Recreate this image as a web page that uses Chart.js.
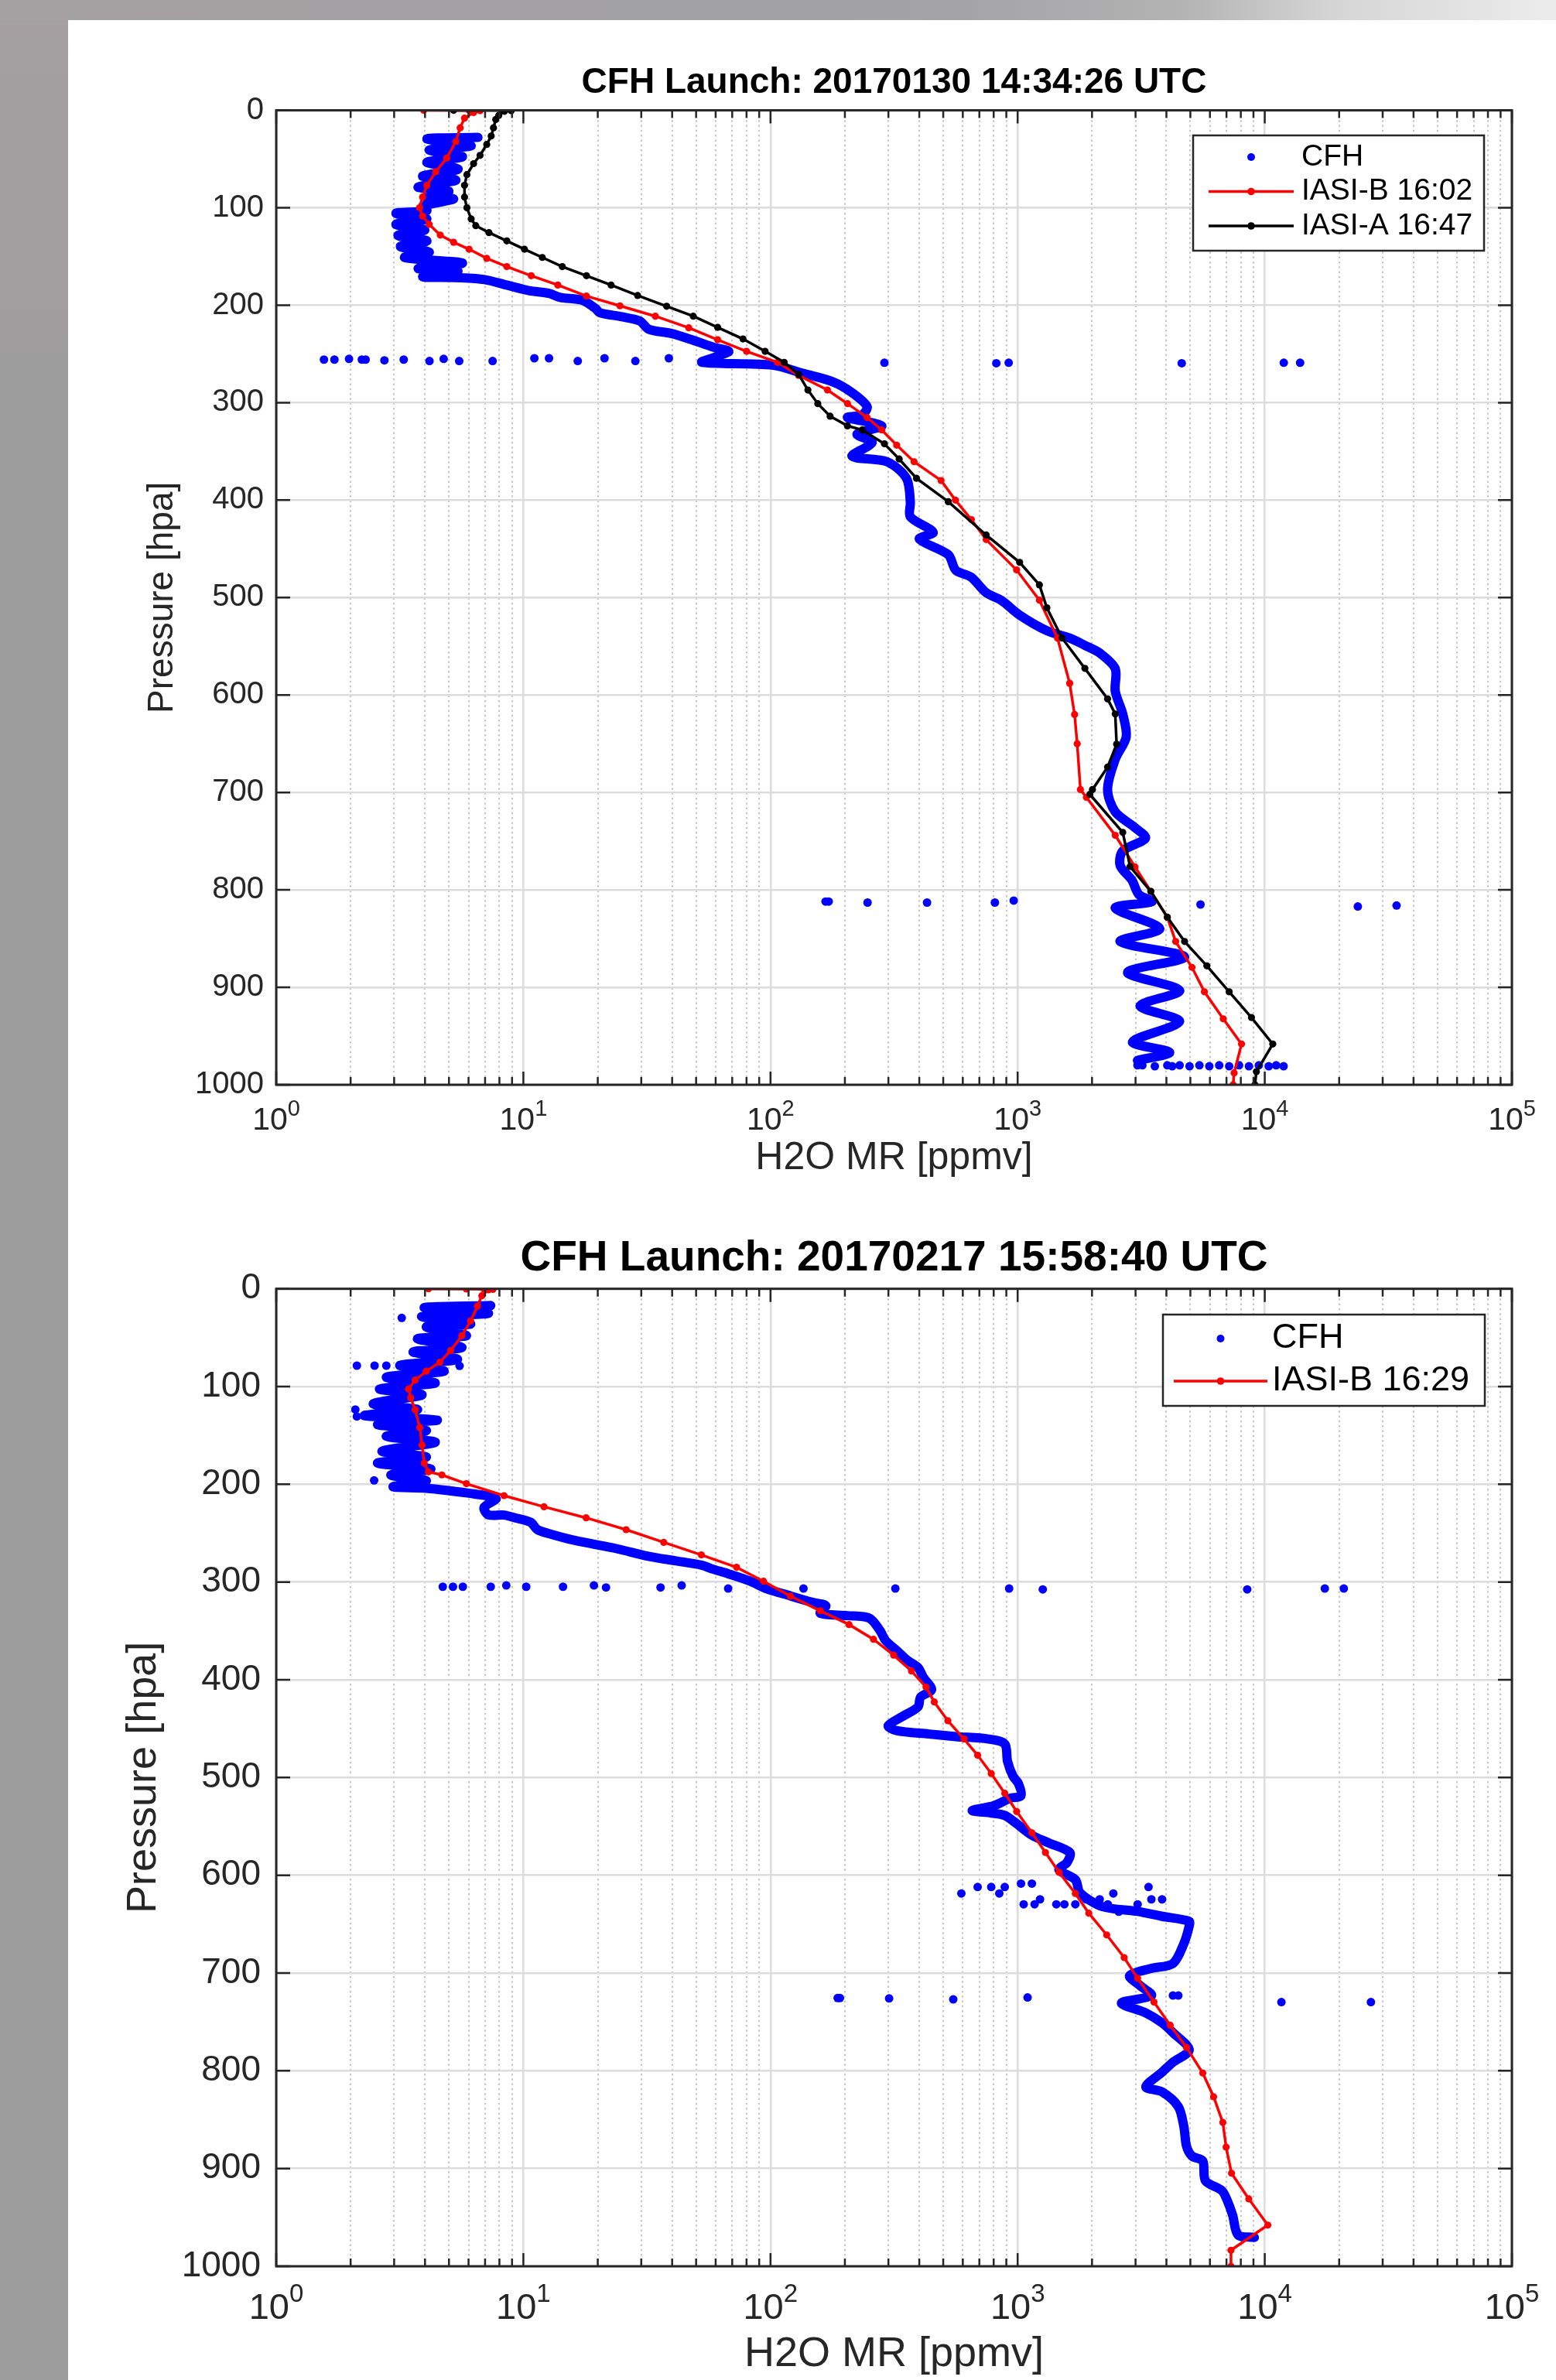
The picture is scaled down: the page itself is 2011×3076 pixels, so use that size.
<!DOCTYPE html>
<html>
<head>
<meta charset="utf-8">
<script src="https://cdn.jsdelivr.net/npm/chart.js@4.4.1/dist/chart.umd.min.js"></script>
<style>
  body { margin: 0; width: 2011px; height: 3076px; overflow: hidden; position: relative;
         background: linear-gradient(to bottom, #a59fa1 0px, #9e9d9e 500px, #9d9d9d 3076px); }
  #topband { position: absolute; left: 0; top: 0; width: 2011px; height: 26px;
             background: linear-gradient(to right, #a6a2a4 0%, #a2a1a3 45%, #a4a4a6 62%, #b3b3b4 76%, #d6d6d6 86%, #ececec 100%); }
  #sheet { position: absolute; left: 88px; top: 26px; width: 1923px; height: 3050px; background: #fff; }
  canvas { position: absolute; left: 0; }
  #c1 { top: 0; }
  #c2 { top: 1560px; }
</style>
</head>
<body>
<div id="topband"></div>
<div id="sheet"></div>
<canvas id="c1" width="2011" height="1560"></canvas>
<canvas id="c2" width="2011" height="1516"></canvas>
<script>
// ---- data: [H2O mixing ratio ppmv, pressure hPa] ----
const xDecades = [1, 10, 100, 1000, 10000, 100000];
const xExponents = ['0', '1', '2', '3', '4', '5'];

// launch 20170130
const cfh1 = [
  [6.55,27.8],[4.07,29.2],[6.15,36.3],[4.16,40.6],[5.67,47.6],[4.07,53.3],[5.44,60.4],[3.91,67.5],
  [5.33,71.7],[3.75,78.8],[5.0,83],[4.07,90.1],[5.22,91],[3.91,98.6],[4.07,102.9],[3.05,105.7],
  [4.07,111.4],[3.05,117],[3.99,122.7],[3.11,128.4],[4.07,134],[3.18,139.8],[4.16,145.4],[3.31,151],
  [5.67,156.7],[3.75,162.3],[5.44,165.2],[3.91,170.8],[5.6,171.8],[6.97,173.7],[8.57,179.3],
  [10.54,185],[12.7,187.8],[14.08,192],[17.31,194.9],[19.6,203.4],[20.4,207.7],[25.1,211.9],
  [29.6,216.2],[32.2,224.7],[39.6,228.9],[48.7,236],[58.6,243],[67.8,247.3],[59.9,253],[52.8,258.6],
  [102.5,261.5],[135.5,270],[178.4,278.5],[214,289.8],[246,304],[235,312.4],[205,315.3],[282,323.8],
  [224,332.3],[258,340.8],[214,355],[296,360.6],[355,377.6],[368,402],[368,417],[455,433],[400,440],
  [524,456],[562,472],[648,479],[746,495],[860,503],[1019,518],[1313,534],[1624,541.6],[1871,549],
  [2150,557],[2483,573],[2483,596],[2663,619.5],[2750,643],[2483,666],[2312,697],[2483,720],
  [2980,736],[3293,747],[2663,760],[2600,775],[2900,790],[3100,805],[3500,812],[2483,818.7],
  [3760,839.8],[2600,853],[4738,868.9],[2786,884.7],[4524,903.2],[3126,919.1],[4524,935],[2917,956],
  [4123,966.7],[3055,975]
];
const cfh1Spikes = [
  [1.56,255.8],[1.72,255.8],[1.97,255.1],[2.22,255.8],[2.30,255.8],[2.74,256.5],[3.28,255.8],
  [4.17,257.2],[4.76,255.1],[5.50,257.2],[7.51,257.2],[11.08,254.4],[12.70,254.4],[16.6,257.2],
  [21.3,254.4],[28.4,257.2],[38.8,254.4],[289,259],[820,259.5],[920,259],[4613,259.5],[11940,259],
  [13900,259],[167,812],[172,812],[247,813],[430,813],[809,813],[964,811],[5495,815],[23800,817],
  [34150,816],
  [3055,980],[3197,980],[3591,981],[4033,980],[4222,981],[4524,980],[4961,981],[5441,980],
  [5966,981],[6541,980],[7178,981],[7870,980],[8630,981],[9462,980],[10380,981],[11120,980],[11920,981]
];
const iasiB1 = [
  [3.95,0],[6.03,0.2],[6.68,0.4],[6.29,2.3],[5.78,8],[5.55,17.9],[5.33,32],[4.90,49],[4.42,63],
  [4.07,77],[3.91,89],[3.80,100],[3.91,108.5],[4.16,117],[4.61,128],[5.22,135.4],[6.03,142.5],
  [7.11,151.9],[8.57,160.4],[10.76,169.7],[13.79,179.3],[18.0,190.6],[24.6,200.6],[34.2,211.3],
  [46.7,223.2],[61.1,235.4],[80.0,247.3],[106.8,258.6],[130,272],[170,287],[205,301],[246,315.3],
  [282,328],[324,343.6],[381,360.6],[490,379.9],[560,400],[650,420],[746,440.5],[990,471.6],
  [1225,502.7],[1450,541.6],[1624,588],[1700,620],[1742,650],[1795,697],[1898,705],[2483,744],
  [2985,776.4],[3459,801.5],[4033,828],[4360,853],[5077,879.5],[5698,904.6],[6792,932.3],
  [8054,958.2],[7516,987.8],[7449,1000]
];
const iasiA1 = [
  [5.22,0],[8.2,0.1],[8.93,0.4],[8.39,1.0],[7.95,5.2],[7.73,9.4],[7.57,17.9],[7.41,26.4],[7.11,35],
  [6.68,46.2],[6.29,54.7],[5.91,66],[5.78,77],[5.78,89],[5.91,100],[6.15,111.4],[6.42,118.4],
  [7.26,125.5],[8.57,134],[10.1,142.5],[11.93,151],[14.37,160.4],[18.0,169.7],[22.65,179.3],
  [29.0,190],[38.0,201.1],[48.7,211.3],[61.1,222.7],[77.4,234.6],[95.1,247.3],[113.6,258.6],
  [130,271],[141.7,287],[155.4,301],[174.3,313.9],[204.8,323.8],[235,328],[289,342.2],[331.6,357.8],
  [389.7,377.6],[524,401.6],[746,435.8],[1019,463.9],[1225,487],[1313,510.5],[1513,541.6],
  [1871,572.7],[2312,604],[2483,619.5],[2515,650.5],[2312,674],[2008,697],[1960,702],[2663,741],
  [2851,776],[3459,801.5],[4033,828],[4738,853],[5831,878],[7178,904.6],[8834,931],[10774,958.2],
  [9250,986.5],[9125,1000]
];

// launch 20170217
const cfh2 = [
  [7.38,17.1],[3.97,19.2],[7.22,25.2],[3.89,28.3],[6.12,35.9],[4.05,38.9],[5.88,48],[3.73,51],
  [5.64,60.1],[3.58,64.6],[5.41,72.2],[3.16,78.3],[4.78,84.3],[2.79,90.4],[4.40,96.4],[2.62,102.5],
  [3.89,108.5],[2.47,117.6],[3.73,123.7],[2.27,129.8],[4.49,134.3],[2.57,138.8],[4.05,144.9],
  [2.79,151],[4.40,157],[2.68,166.1],[4.05,172.2],[2.57,178.3],[4.22,184.3],[2.91,190.4],
  [4.05,196.4],[2.97,202.5],[4.05,204],[5.19,207],[6.38,210],[7.75,214.6],[6.93,223.7],[7.22,231.2],
  [8.35,231.5],[9.26,234.3],[10.7,238.8],[11.4,246.4],[12.9,250.9],[15.9,257],[19.5,261.5],
  [24.0,266],[32.0,273.6],[41.0,278.2],[52.6,282.7],[57.9,286.5],[67.4,291.5],[82.5,299],
  [96,306.6],[120.5,314.2],[147.5,320.7],[167.4,324.3],[159,331.9],[204.8,334.4],[250.8,336.9],
  [277.4,349.6],[291.7,359.6],[322.8,369.7],[357,379.8],[395,387.4],[415.6,397.5],[448.5,410.1],
  [405,417.7],[395,427.8],[339.6,437.9],[299.2,447],[322.8,452],[437.5,455.5],[562.6,458.1],
  [762,460.6],[887,465.7],[910,483.3],[957,498.5],[1007,506],[1032,518.6],[933,521.2],[801.5,528.8],
  [655,533.8],[782,536.3],[887,538.8],[981,546.4],[1142,559],[1329,566.6],[1626,576.7],
  [1585,586.8],[1470,594.4],[1712,604.5],[1790,618],[2200,632],[3059,637],[3842,642],[4946,647],
  [4946,652],[4704,670],[4249,690.3],[3477,695.3],[2836,702.9],[3137,713],[3477,723.1],[2630,730.7],
  [3302,740.8],[3842,750.9],[4249,760.9],[4946,778.7],[4249,791.3],[3842,801.4],[3302,816.5],
  [3842,821.6],[4469,836.7],[4704,856.9],[4824,877.1],[5073,887.2],[5612,892.3],[5754,912.5],
  [6700,922.5],[7047,932.6],[7413,947.8],[7796,967.9],[9074,970.5]
];
const cfh2Spikes = [
  [2.12,78.6],[2.50,78.6],[2.79,78.6],[5.52,78.9],[3.22,29.8],[3.86,28.3],[2.09,123.5],[2.12,130.6],
  [2.49,196],[4.72,304.8],[5.19,304.8],[5.69,304.8],[7.38,304.8],[8.53,303.5],[10.27,304.8],
  [14.47,304.8],[19.3,303.5],[21.6,305.5],[35.9,305.5],[43.7,303.5],[67.4,306.6],[136,306.6],
  [320,306.6],[924,306.6],[1264,307.5],[8492,307.5],[17500,306.6],[20890,306.6],
  [592,618.6],[689,612],[782,612],[843,618.6],[887,612],[1032,608.5],[1142,608.5],[1058,629.7],
  [1171,629.7],[1232,624.6],[1434,629.7],[1546,629.7],[1712,629.7],[1893,624.6],[2148,624.6],
  [2317,629.7],[2439,618.6],[2566,637.3],[3059,629.7],[3386,612],[3477,624.6],[3842,624.6],
  [187,725.6],[191,725.6],[302,726],[549,727],[1097,725],[4250,723],[4470,723],[11680,729.7],
  [26890,729.7]
];
const iasiB2 = [
  [4.13,0],[5.88,0.2],[6.93,0.4],[7.53,0.6],[7.22,1.0],[6.79,7.1],[6.52,17.7],[6.12,32.8],[5.64,48],
  [5.08,63.1],[4.59,75.2],[4.05,84.3],[3.65,93.4],[3.43,102.5],[3.50,111.6],[3.65,123.7],
  [3.81,141.9],[3.89,160],[3.97,178.3],[4.13,187.3],[4.68,190.4],[5.88,199.4],[8.35,211.6],
  [12.12,223],[17.95,234.3],[26.05,246.4],[37.0,259.4],[52.5,272.2],[72.9,284.9],[93.7,299.2],
  [120.4,314.4],[159,329.4],[208,343.5],[261,358.6],[315,374.8],[372,391],[426,407.6],[460,422.7],
  [522,441.9],[607,460.6],[689,477.2],[782,495.9],[887,516.1],[991,534.8],[1142,556.5],
  [1296,576.7],[1470,596.9],[1712,618.6],[1941,638.8],[2293,661],[2698,684.2],[3059,705.4],
  [3561,729.7],[4143,753.4],[4824,776.1],[5612,802.3],[6209,826.6],[6765,852.8],[6976,878.1],
  [7337,904.8],[8619,931.1],[10290,957.9],[7300,983.6],[7300,1000]
];

const FONT = "'Liberation Sans', Arial, Helvetica, sans-serif";
const axisColor = '#262626';
const blue = '#0000ff';
Chart.defaults.font.family = FONT;
Chart.defaults.color = axisColor;

const isDecade = v => v > 0 && Math.abs(Math.log10(v) - Math.round(Math.log10(v))) < 1e-9;
const xGridValues = [];
xDecades.forEach((d, i) => {
  if (i === xDecades.length - 1) { xGridValues.push(d); return; }
  for (let k = 1; k < 10; k++) xGridValues.push(d * k);
});
const toXY = pts => pts.map(([v, p]) => ({x: v, y: p}));

// box, inner tick marks, 10^n labels and the framed legend, MATLAB style
const matlabAxes = {
  id: 'matlabAxes',
  afterDraw(chart, args, o) {
    const {ctx, chartArea: a, scales: {x, y}} = chart;
    ctx.save();
    ctx.strokeStyle = axisColor;
    ctx.lineWidth = 2.5;
    ctx.beginPath();
    x.ticks.forEach(t => {
      const px = x.getPixelForValue(t.value);
      const len = isDecade(t.value) ? 17 : 10;
      ctx.moveTo(px, a.bottom); ctx.lineTo(px, a.bottom - len);
      ctx.moveTo(px, a.top); ctx.lineTo(px, a.top + len);
    });
    y.ticks.forEach(t => {
      const py = y.getPixelForValue(t.value);
      ctx.moveTo(a.left, py); ctx.lineTo(a.left + 18, py);
      ctx.moveTo(a.right, py); ctx.lineTo(a.right - 18, py);
    });
    ctx.stroke();
    ctx.lineWidth = 3;
    ctx.strokeRect(a.left, a.top, a.right - a.left, a.bottom - a.top);

    // decade labels 10^n
    ctx.fillStyle = axisColor;
    ctx.textBaseline = 'middle';
    ctx.textAlign = 'left';
    const base = o.decadeSize + 'px ' + FONT, sup = o.supSize + 'px ' + FONT;
    xDecades.forEach((d, i) => {
      const px = x.getPixelForValue(d);
      ctx.font = base; const w10 = ctx.measureText('10').width;
      ctx.font = sup; const ws = ctx.measureText(xExponents[i]).width;
      const x0 = px - (w10 + ws) / 2;
      ctx.font = base; ctx.fillText('10', x0, a.bottom + o.labelDy);
      ctx.font = sup; ctx.fillText(xExponents[i], x0 + w10, a.bottom + o.labelDy + o.supDy);
    });

    // legend
    const L = o.legend;
    ctx.fillStyle = '#fff';
    ctx.fillRect(L.x, L.y, L.w, L.h);
    ctx.lineWidth = 2.5;
    ctx.strokeStyle = axisColor;
    ctx.strokeRect(L.x, L.y, L.w, L.h);
    const items = chart.data.datasets.filter(ds => ds.inLegend).sort((p, q) => q.order - p.order);
    ctx.font = L.size + 'px ' + FONT;
    items.forEach((ds, i) => {
      const cy = L.rows[i];
      const mid = (L.s0 + L.s1) / 2;
      if (ds.label !== 'CFH') {
        ctx.strokeStyle = ds.borderColor; ctx.lineWidth = 3.5;
        ctx.beginPath(); ctx.moveTo(L.s0, cy); ctx.lineTo(L.s1, cy); ctx.stroke();
        ctx.fillStyle = ds.borderColor;
        ctx.beginPath(); ctx.arc(mid, cy, 4.8, 0, Math.PI * 2); ctx.fill();
      } else {
        ctx.fillStyle = blue;
        ctx.beginPath(); ctx.arc(mid, cy, 5, 0, Math.PI * 2); ctx.fill();
      }
      ctx.fillStyle = '#000';
      ctx.fillText(ds.label, L.tx, cy);
    });
    ctx.restore();
  }
};

function lineSet(label, pts, color, order) {
  return {label, data: toXY(pts), showLine: true, borderColor: color, backgroundColor: color,
          borderWidth: 3.5, pointRadius: 4.6, pointBorderWidth: 0, order, inLegend: true};
}
function cfhSet(pts) {
  return {label: 'CFH', data: toXY(pts), showLine: true, borderColor: blue, backgroundColor: blue,
          borderWidth: 12, pointRadius: 5.5, pointBorderWidth: 0, tension: 0.3,
          borderJoinStyle: 'round', borderCapStyle: 'round', order: 3, inLegend: true};
}
function spikeSet(pts) {
  return {label: 'CFH', data: toXY(pts), showLine: false, backgroundColor: blue,
          pointRadius: 5.5, pointBorderWidth: 0, order: 4, inLegend: false};
}

function buildChart(id, s) {
  return new Chart(document.getElementById(id), {
    type: 'scatter',
    data: {datasets: s.datasets},
    options: {
      responsive: false,
      animation: false,
      devicePixelRatio: 1,
      layout: {padding: {top: s.padTop, right: 57, bottom: s.padBottom, left: 0}},
      plugins: {
        legend: {display: false},
        tooltip: {enabled: false},
        title: {display: true, fullSize: false, text: s.title, color: '#000',
                font: {size: s.titleSize, weight: 'bold'}, padding: {top: 0, bottom: s.titleGap}},
        matlabAxes: s.axes
      },
      scales: {
        x: {
          type: 'logarithmic', min: 1, max: 100000, position: 'bottom',
          afterBuildTicks: sc => { sc.ticks = xGridValues.map(v => ({value: v})); },
          afterFit: sc => { sc.height = s.xAxisHeight; },
          ticks: {display: false},
          grid: {drawTicks: false, lineWidth: c => (c.tick && isDecade(c.tick.value)) ? 2.5 : 2,
                 color: c => (c.tick && isDecade(c.tick.value)) ? '#dcdcdc' : '#c6c6c6'},
          border: {display: false, dash: c => (c.tick && !isDecade(c.tick.value)) ? [2.5, 3.8] : []},
          title: {display: true, text: 'H2O MR [ppmv]', color: axisColor, font: {size: s.xLabelSize}, padding: 0}
        },
        y: {
          type: 'linear', reverse: true, min: 0, max: 1000,
          afterFit: sc => { sc.width = 357; },
          ticks: {stepSize: 100, color: axisColor, font: {size: s.tickSize}, padding: s.tickPad,
                  callback: v => String(v)},
          grid: {drawTicks: false, lineWidth: 2.5, color: '#dcdcdc'},
          border: {display: false},
          title: {display: true, text: 'Pressure [hpa]', color: axisColor, font: {size: s.labelSize},
                  padding: {top: s.yTitlePad, bottom: 0}}
        }
      }
    },
    plugins: [matlabAxes]
  });
}

buildChart('c1', {
  title: 'CFH Launch: 20170130 14:34:26 UTC',
  titleSize: 46, titleGap: 7.4, padTop: 80, padBottom: 33, xAxisHeight: 125,
  labelSize: 46, xLabelSize: 50, tickSize: 40, tickPad: 16, yTitlePad: 182.4,
  axes: {decadeSize: 41, supSize: 29, labelDy: 47, supDy: -15,
         legend: {x: 1542, y: 175, w: 376, h: 149, rows: [203, 247.5, 292], s0: 1562, s1: 1672, tx: 1682, size: 39}},
  datasets: [lineSet('IASI-A 16:47', iasiA1, '#000000', 1), lineSet('IASI-B 16:02', iasiB1, '#ff0000', 2),
             cfhSet(cfh1), spikeSet(cfh1Spikes)]
});

buildChart('c2', {
  title: 'CFH Launch: 20170217 15:58:40 UTC',
  titleSize: 55, titleGap: 5.7, padTop: 34, padBottom: 0.6, xAxisHeight: 146.4,
  labelSize: 54, xLabelSize: 54, tickSize: 46, tickPad: 20, yTitlePad: 153.6,
  axes: {decadeSize: 47, supSize: 33, labelDy: 55, supDy: -18,
         legend: {x: 1503, y: 139, w: 416, h: 118, rows: [170, 225], s0: 1517, s1: 1638, tx: 1644, size: 45}},
  datasets: [lineSet('IASI-B 16:29', iasiB2, '#ff0000', 2), cfhSet(cfh2), spikeSet(cfh2Spikes)]
});
</script>
</body>
</html>
